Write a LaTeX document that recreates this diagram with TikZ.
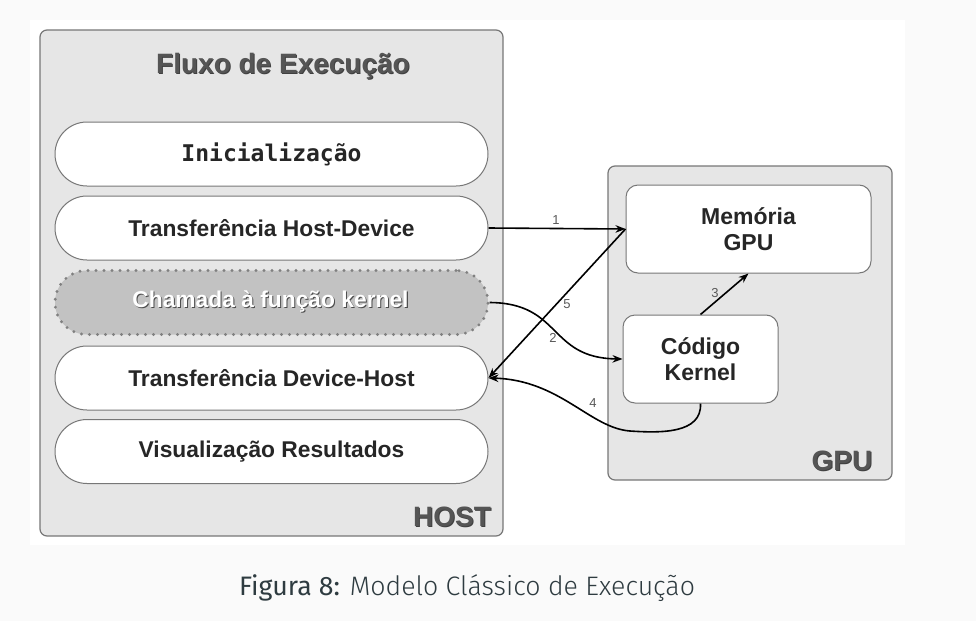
\documentclass[tikz,border=0pt]{standalone}
\usepackage{fontspec}
\setmainfont{Liberation Sans}
\newfontfamily\monob{DejaVu Sans Mono}
\newfontfamily\capfont{Fira Sans}
\newfontfamily\caplight{Fira Sans Light}
\usetikzlibrary{arrows.meta}
\definecolor{boxfill}{HTML}{E6E6E6}
\definecolor{boxline}{HTML}{777777}
\definecolor{titlegray}{HTML}{555555}
\definecolor{pillgray}{HTML}{C2C2C2}
\definecolor{capcol}{HTML}{2E3B40}
\definecolor{pagebg}{HTML}{FAFAFA}
\tikzset{
  container/.style={draw=boxline, line width=1.2pt, fill=boxfill, rounded corners=7pt},
  pill/.style={draw=boxline, line width=1pt, fill=white, rounded corners=32pt,
    minimum width=433pt, minimum height=64pt, font=\bfseries\fontsize{22.8}{25}\selectfont, text=black!85},
  gpubox/.style={draw=boxline, line width=1pt, fill=white, rounded corners=12pt,
    font=\bfseries\fontsize{23}{26}\selectfont, text=black!85, align=center},
  bigtitle/.style={font=\bfseries\fontsize{28}{30}\selectfont, text=titlegray},
  shadowtxt/.style={font=\bfseries\fontsize{28}{30}\selectfont, text=black!75},
  conn/.style={-{Stealth[length=10pt,width=7.5pt]}, line width=1.6pt, black},
  lbl/.style={font=\fontsize{13}{14}\selectfont, text=black!65, inner sep=1pt}
}
\begin{document}
\begin{tikzpicture}[x=1pt,y=-1pt]
\useasboundingbox (0,0) rectangle (976,621);
\fill[pagebg] (0,0) rectangle (976,621);
\fill[white] (30,20) rectangle (905,545);
% HOST
\draw[container] (40,30) rectangle (503,536);
\node[shadowtxt] (titles) at (284,67) {Fluxo de Execução};
\node[bigtitle] (title) at (283,66) {Fluxo de Execução};
\node[shadowtxt] (hosts) at (453,518) {HOST};
\node[bigtitle] (host) at (452,517) {HOST};
\node[pill, font=\monob\bfseries\fontsize{23}{25}\selectfont] (ini) at (271.5,154) {Inicialização};
\node[pill] (hd) at (271.5,228) {Transferência Host-Device};
\node[pill, fill=pillgray, draw=black!50, line width=3.2pt, dash pattern=on 0pt off 8pt, line cap=round, text=black!70] (cham) at (271.5,302.5) {Chamada à função kernel};
\node[pill, draw=none, fill=none, text=white] (chamt) at (270.5,301.5) {Chamada à função kernel};
\node[pill] (dh) at (271.5,378) {Transferência Device-Host};
\node[pill] (vis) at (271.5,451.5) {Visualização Resultados};
% GPU
\draw[container] (608,166) rectangle (892,480);
\node[shadowtxt] (gpus) at (843,462) {GPU};
\node[bigtitle] (gpu) at (842,461) {GPU};
\node[gpubox, minimum width=245pt, minimum height=88pt] (mem) at (748.5,229) {Memória\\GPU};
\node[gpubox, minimum width=155pt, minimum height=88pt] (ker) at (700.5,359) {Código\\Kernel};
% connectors
\draw[conn] (hd.east) -- (mem.west);
\draw[conn] (mem.west) -- (dh.east);
\draw[conn] (cham.east) .. controls (562,303) and (548,358) .. (ker.west);
\draw[conn] (ker.south) .. controls (702,434) and (660,433) .. (630,431) .. controls (590,428) and (560,380) .. (dh.east);
\draw[conn] (ker.north) -- (mem.south);
\node[lbl] (l1) at (556,220) {1};
\node[lbl] (l2) at (553,338) {2};
\node[lbl] (l3) at (715,293) {3};
\node[lbl] (l4) at (593,403) {4};
\node[lbl] (l5) at (567,304) {5};
% caption
\node[text=capcol, font=\fontsize{26.7}{30}\selectfont] (cap) at (467,588) {{\capfont Figura 8:} {\caplight Modelo Clássico de Execução}};
\end{tikzpicture}
\end{document}
